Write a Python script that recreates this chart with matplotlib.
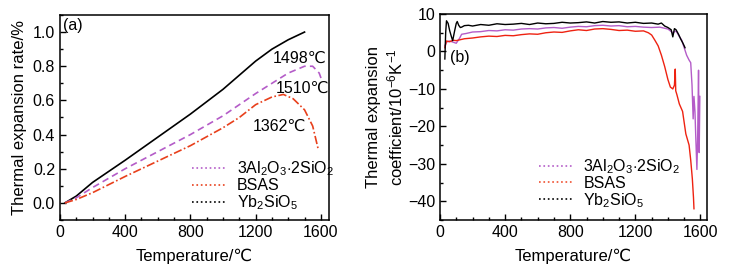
import matplotlib
matplotlib.use("Agg")
import matplotlib.pyplot as plt
from matplotlib.lines import Line2D

plt.rcParams["font.family"] = ["Liberation Sans", "DejaVu Sans"]
plt.rcParams["mathtext.fontset"] = "custom"
plt.rcParams["mathtext.rm"] = "Liberation Sans"
plt.rcParams["mathtext.it"] = "Liberation Sans"

# ---- panel (a): thermal expansion rate (%) ----
temp_yb_a = [30, 100, 200, 400, 600, 800, 1000, 1200, 1300, 1400, 1500]
rate_yb = [0.0, 0.04, 0.12, 0.25, 0.385, 0.52, 0.665, 0.83, 0.90, 0.955, 1.0]

temp_mul_a = [30, 100, 200, 400, 600, 800, 1000, 1200, 1300, 1400, 1500, 1550, 1590, 1605]
rate_mul = [0.0, 0.03, 0.09, 0.20, 0.30, 0.40, 0.51, 0.64, 0.70, 0.76, 0.80, 0.80, 0.76, 0.72]

temp_bsas_a = [30, 100, 200, 400, 600, 800, 1000, 1100, 1200, 1300, 1370, 1430, 1500, 1550, 1585]
rate_bsas = [0.0, 0.02, 0.06, 0.155, 0.245, 0.335, 0.44, 0.50, 0.575, 0.62, 0.635, 0.61, 0.545, 0.45, 0.31]

peak_labels = ["1498\u2103", "1510\u2103", "1362\u2103"]
peak_label_pos = [(1471, 0.845), (1486, 0.669), (1348, 0.451)]

# ---- panel (b): thermal expansion coefficient (10^-6 K^-1) ----
temp_yb_b = [30, 35, 40, 50, 60, 70, 78, 90, 100, 106, 115, 125, 133, 150, 175, 200,
             250, 300, 350, 400, 450, 500, 550, 600, 650, 700, 750, 800, 850, 900, 950,
             1000, 1050, 1100, 1150, 1200, 1250, 1300, 1340, 1360, 1380, 1400, 1420,
             1430, 1440, 1450, 1465, 1480, 1490, 1500, 1505]
cte_yb = [-2.0, 5.0, 8.2, 7.5, 5.5, 4.0, 2.9, 5.5, 7.5, 8.0, 7.0, 6.4, 6.5, 6.9, 7.0, 6.8,
          7.2, 7.0, 7.4, 7.2, 7.3, 7.5, 7.2, 7.6, 7.4, 7.5, 7.8, 7.6, 7.7, 7.9, 7.6,
          8.0, 7.8, 7.9, 7.6, 7.8, 7.5, 7.6, 7.3, 7.6, 6.8, 6.4, 5.8,
          3.9, 6.1, 5.8, 4.6, 3.2, 2.4, 1.5, 1.0]

temp_bsas_b = [30, 40, 60, 80, 100, 150, 200, 250, 300, 350, 400, 450, 500, 550, 600,
               650, 700, 750, 800, 850, 900, 950, 1000, 1050, 1100, 1150, 1200, 1250,
               1280, 1300, 1320, 1340, 1360, 1380, 1400, 1415, 1430, 1440, 1445, 1448,
               1455, 1470, 1490, 1510, 1530, 1540, 1550, 1557, 1560]
cte_bsas = [1.0, 2.8, 2.6, 3.0, 2.9, 3.4, 3.6, 3.9, 4.1, 4.0, 4.3, 4.2, 4.5, 4.7, 4.6,
            5.0, 5.2, 5.1, 5.5, 5.8, 5.6, 6.0, 6.1, 5.9, 5.6, 5.7, 5.4, 5.5,
            5.0, 4.4, 3.0, 1.5, -1.0, -4.0, -7.5, -9.5, -10.0, -9.0, -4.7, -10.5,
            -11.5, -14.0, -16.0, -22.0, -25.0, -29.0, -34.0, -39.0, -42.0]

temp_mul_b = [30, 40, 60, 80, 100, 120, 133, 160, 200, 250, 300, 350, 400, 450, 500,
              550, 600, 650, 700, 750, 800, 850, 900, 950, 1000, 1050, 1100, 1150, 1200,
              1250, 1300, 1350, 1400, 1430, 1450, 1470, 1485, 1500, 1515, 1530, 1540,
              1548, 1555, 1560, 1566, 1572, 1578, 1583, 1588, 1592, 1596]
cte_mul = [1.5, 2.5, 2.8, 2.5, 2.2, 3.5, 4.6, 4.8, 5.2, 5.3, 5.6, 5.5, 5.8, 5.7, 6.0,
           6.1, 6.0, 6.3, 6.4, 6.2, 6.5, 6.7, 6.6, 6.9, 7.0, 6.8, 6.9, 6.6, 6.7,
           6.5, 6.4, 6.5, 6.0, 5.0, 5.5, 4.0, 3.0, 1.0, -1.0, -2.3, -3.0,
           -9.0, -18.0, -12.0, -16.0, -24.0, -31.5, -22.0, -5.0, -27.0, -12.0]

legend_labels = [r"3Al$_2$O$_3$$\cdot$2SiO$_2$", "BSAS", r"Yb$_2$SiO$_5$"]

purple = "#b45cc8"
red_a = "#e8401c"
red_b = "#ee2211"

tick_size = 11.5
label_size = 12


def style_axes(ax):
    for side in ax.spines.values():
        side.set_linewidth(1.1)
    ax.tick_params(which="both", direction="in", labelsize=tick_size, width=1.0)
    ax.tick_params(which="major", length=4.5)
    ax.tick_params(which="minor", length=2.5)


def add_legend(ax, colors, anchor):
    handles = [Line2D([0], [0], color=c, linestyle=":", linewidth=1.2) for c in colors]
    ax.legend(handles, legend_labels, loc="lower left", bbox_to_anchor=anchor,
              frameon=False, fontsize=tick_size, handlelength=2.2, handletextpad=0.6,
              labelspacing=0.0, borderpad=0.0, borderaxespad=0.0)


fig = plt.figure(figsize=(7.35, 2.71), dpi=100)

ax_a = fig.add_axes([0.0816, 0.1882, 0.366, 0.7565])
ax_a.plot(temp_yb_a, rate_yb, color="black", linewidth=1.2)
ax_a.plot(temp_mul_a, rate_mul, color=purple, linewidth=1.2, linestyle=(0, (4, 2.5)))
ax_a.plot(temp_bsas_a, rate_bsas, color=red_a, linewidth=1.2, linestyle=(0, (5, 1.5, 1, 1.5)))
for text, (tx, ty) in zip(peak_labels, peak_label_pos):
    ax_a.text(tx, ty, text, fontsize=tick_size, ha="center", va="center")
ax_a.text(20, 1.04, "(a)", fontsize=tick_size, ha="left", va="center")
ax_a.set_xlim(0, 1650)
ax_a.set_ylim(-0.1, 1.1)
ax_a.set_xticks([0, 400, 800, 1200, 1600])
ax_a.set_xticks(range(100, 1650, 100), minor=True)
ax_a.set_yticks([0.0, 0.2, 0.4, 0.6, 0.8, 1.0])
ax_a.set_yticks([-0.1, 0.1, 0.3, 0.5, 0.7, 0.9, 1.1], minor=True)
ax_a.set_yticklabels(["0.0", "0.2", "0.4", "0.6", "0.8", "1.0"])
ax_a.set_xlabel("Temperature/\u2103", fontsize=label_size, labelpad=6)
ax_a.set_ylabel("Thermal expansion rate/%", fontsize=label_size, labelpad=4)
style_axes(ax_a)
add_legend(ax_a, [purple, red_a, "black"], (0.49, 0.04))

ax_b = fig.add_axes([0.5986, 0.1882, 0.3633, 0.760])
ax_b.plot(temp_mul_b, cte_mul, color=purple, linewidth=1.0)
ax_b.plot(temp_bsas_b, cte_bsas, color=red_b, linewidth=1.0)
ax_b.plot(temp_yb_b, cte_yb, color="black", linewidth=1.0)
ax_b.text(60, -1.5, "(b)", fontsize=tick_size, ha="left", va="center")
ax_b.set_xlim(0, 1640)
ax_b.set_ylim(-45, 10)
ax_b.set_xticks([0, 400, 800, 1200, 1600])
ax_b.set_xticks(range(100, 1640, 100), minor=True)
ax_b.set_yticks([-40, -30, -20, -10, 0, 10])
ax_b.set_yticks([-45, -35, -25, -15, -5, 5], minor=True)
ax_b.set_xlabel("Temperature/\u2103", fontsize=label_size, labelpad=6)
ax_b.set_ylabel("Thermal expansion\ncoefficient/10$^{-6}$K$^{-1}$", fontsize=label_size,
                labelpad=2, linespacing=1.25)
style_axes(ax_b)
add_legend(ax_b, [purple, "#f05030", "black"], (0.37, 0.05))

fig.savefig("out.png", dpi=100)
